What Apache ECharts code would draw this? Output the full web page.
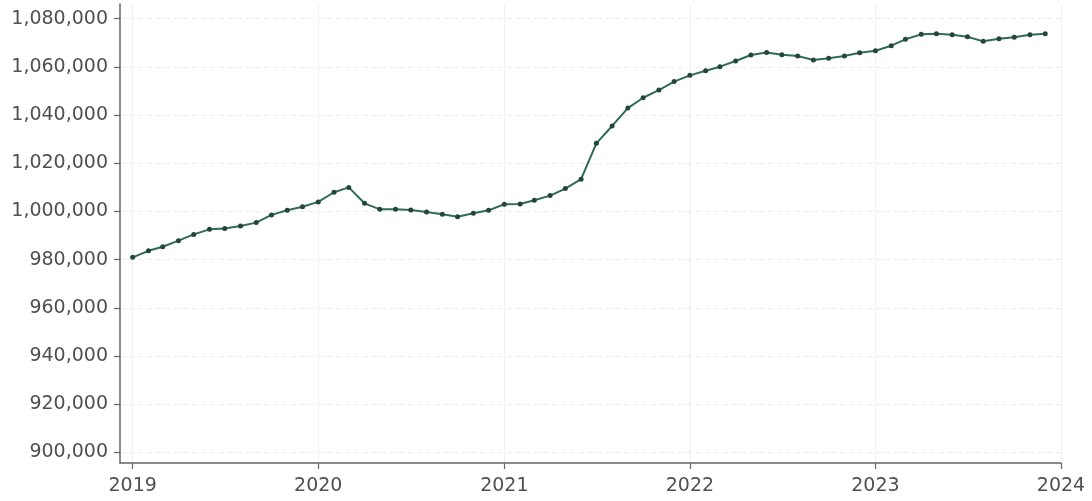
<!DOCTYPE html>
<html>
<head>
<meta charset="utf-8">
<script src="https://cdn.jsdelivr.net/npm/echarts@6/dist/echarts.min.js"></script>
<style>
html,body{margin:0;padding:0;background:#fff;}
#chart{width:1092px;height:501px;}
</style>
</head>
<body>
<div id="chart"></div>
<script>
// Monthly values, Jan..Dec of each year
const years = [2019, 2020, 2021, 2022, 2023];
const v2019 = [981000, 983700, 985400, 987900, 990500, 992600, 993000, 994000, 995400, 998600, 1000500, 1002000];
const v2020 = [1004000, 1008000, 1010000, 1003400, 1000900, 1000900, 1000600, 999800, 998850, 997850, 999300, 1000500];
const v2021 = [1003000, 1003100, 1004650, 1006600, 1009500, 1013400, 1028300, 1035500, 1042900, 1047200, 1050400, 1053900];
const v2022 = [1056500, 1058400, 1060100, 1062450, 1064950, 1066000, 1065050, 1064500, 1062850, 1063550, 1064500, 1065900];
const v2023 = [1066700, 1068800, 1071450, 1073500, 1073800, 1073350, 1072500, 1070600, 1071700, 1072300, 1073350, 1073800];
const yTicks = [900000, 920000, 940000, 960000, 980000, 1000000, 1020000, 1040000, 1060000, 1080000];
const xTickYears = [2019, 2020, 2021, 2022, 2023, 2024];

const valuesByYear = [v2019, v2020, v2021, v2022, v2023];
const seriesData = [];
years.forEach((y, i) => {
  valuesByYear[i].forEach((v, m) => {
    seriesData.push([new Date(y, m, 1).getTime(), v]);
  });
});
const xTicks = xTickYears.map(y => new Date(y, 0, 1).getTime());
const DAY = 86400000;

const chart = echarts.init(document.getElementById('chart'), null, {renderer: 'canvas'});
const labelFont = {fontFamily: 'DejaVu Sans', fontSize: 19, fontWeight: 'normal', color: '#505050'};
chart.setOption({
  animation: false,
  backgroundColor: '#fff',
  grid: {left: 120, right: 31, top: 4, bottom: 38, containLabel: false},
  xAxis: {
    type: 'value',
    scale: true,
    min: xTicks[0] - 25 * DAY,
    max: xTicks[xTicks.length - 1],
    axisLine: {show: true, onZero: false, lineStyle: {color: '#666', width: 1.5}},
    axisTick: {show: true, length: 6, customValues: xTicks, lineStyle: {color: '#666', width: 1.2}},
    axisLabel: Object.assign({
      customValues: xTicks,
      margin: 14,
      formatter: v => String(new Date(v).getFullYear())
    }, labelFont),
    splitLine: {show: true, lineStyle: {color: '#f1f1f1', width: 1, type: 'solid'}}
  },
  yAxis: {
    type: 'value',
    scale: true,
    min: 895660,
    max: 1086100,
    axisLine: {show: true, onZero: false, lineStyle: {color: '#666', width: 1.5}},
    axisTick: {show: true, length: 6, customValues: yTicks, lineStyle: {color: '#666', width: 1.2}},
    axisLabel: Object.assign({
      customValues: yTicks,
      margin: 12,
      formatter: v => v.toLocaleString('en-US')
    }, labelFont),
    splitLine: {show: true, lineStyle: {color: '#ececec', width: 1, type: [5, 4]}}
  },
  series: [{
    type: 'line',
    data: seriesData,
    symbol: 'circle',
    symbolSize: 5,
    showAllSymbol: true,
    lineStyle: {color: '#2f6b5a', width: 2},
    itemStyle: {color: '#24453b', borderWidth: 0}
  }]
});
</script>
</body>
</html>
